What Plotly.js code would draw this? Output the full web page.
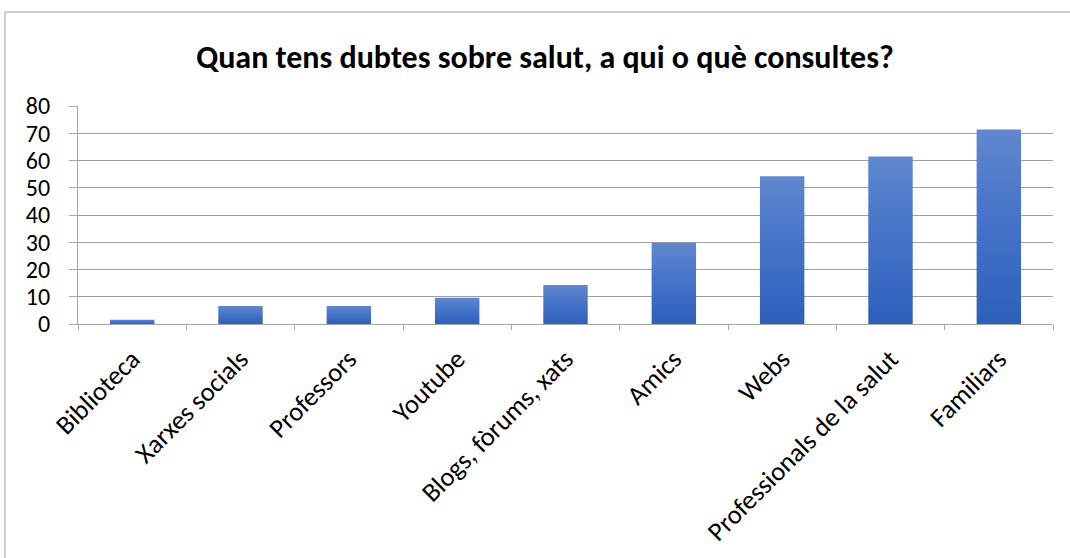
<!DOCTYPE html>
<html>
<head>
<meta charset="utf-8">
<script src="https://cdn.plot.ly/plotly-3.0.1.min.js"></script>
<style>
  html, body { margin: 0; padding: 0; background: #ffffff; }
  #chart { width: 1070px; height: 558px; }
</style>
</head>
<body>
<div id="chart"></div>
<script>
const categories = ["Biblioteca", "Xarxes socials", "Professors", "Youtube", "Blogs, fòrums, xats", "Amics", "Webs", "Professionals de la salut", "Familiars"];
const values = [1.6, 6.6, 6.6, 9.6, 14.3, 29.8, 54.2, 61.5, 71.4];
const yTickValues = [0, 10, 20, 30, 40, 50, 60, 70, 80];
const chartTitle = "Quan tens dubtes sobre salut, a qui o què consultes?";

const FONT = "Carlito, Calibri, Lato, 'Open Sans', sans-serif";

const trace = {
  type: "bar",
  x: categories,
  y: values,
  marker: { color: "#4472c4", line: { width: 0 } },
  hoverinfo: "x+y"
};

const layout = {
  width: 1070,
  height: 558,
  margin: { l: 78, r: 17, t: 106, b: 234 },
  paper_bgcolor: "#ffffff",
  plot_bgcolor: "#ffffff",
  showlegend: false,
  bargap: 0.59,
  font: { family: FONT, color: "#000000", size: 24 },
  title: {
    text: "<b>" + chartTitle + "</b>",
    font: { family: FONT, size: 32, color: "#000000" },
    xref: "container", yref: "container",
    x: 545 / 1070, xanchor: "center",
    y: 1 - 57 / 558, yanchor: "middle"
  },
  xaxis: {
    type: "category",
    tickangle: -45,
    ticks: "outside",
    tickson: "boundaries",
    ticklen: 5,
    tickcolor: "#a6a6a6",
    tickwidth: 1,
    showline: true,
    linecolor: "#a6a6a6",
    linewidth: 1,
    showgrid: false,
    tickfont: { family: FONT, size: 26.5, color: "#000000" },
    ticklabelstandoff: 8,
    fixedrange: true
  },
  yaxis: {
    range: [0, 80],
    tickvals: yTickValues,
    ticks: "outside",
    ticklen: 8,
    tickcolor: "#a6a6a6",
    tickwidth: 1,
    showline: true,
    linecolor: "#a6a6a6",
    linewidth: 1,
    showgrid: true,
    gridcolor: "#a0a0a0",
    gridwidth: 1,
    zeroline: false,
    tickfont: { family: FONT, size: 24, color: "#000000" },
    ticklabelstandoff: 14,
    fixedrange: true
  },
  shapes: [
    {
      type: "path",
      xref: "paper", yref: "paper",
      path: "M -0.0749 -1.2 L -0.0749 1.4312 L 1.05 1.4312",
      line: { color: "#a0a0a0", width: 1 }
    }
  ]
};

Plotly.newPlot("chart", [trace], layout, { displayModeBar: false, staticPlot: true }).then(function (gd) {
  const svg = gd.querySelector("svg.main-svg");
  const ns = "http://www.w3.org/2000/svg";
  let defs = svg.querySelector("defs");
  if (!defs) { defs = document.createElementNS(ns, "defs"); svg.insertBefore(defs, svg.firstChild); }
  const grad = document.createElementNS(ns, "linearGradient");
  grad.setAttribute("id", "barGrad");
  grad.setAttribute("x1", "0"); grad.setAttribute("y1", "0");
  grad.setAttribute("x2", "0"); grad.setAttribute("y2", "1");
  const s1 = document.createElementNS(ns, "stop");
  s1.setAttribute("offset", "0"); s1.setAttribute("stop-color", "#6087cf");
  const s2 = document.createElementNS(ns, "stop");
  s2.setAttribute("offset", "0.5"); s2.setAttribute("stop-color", "#4472c8");
  const s3 = document.createElementNS(ns, "stop");
  s3.setAttribute("offset", "1"); s3.setAttribute("stop-color", "#2d60bb");
  grad.appendChild(s1); grad.appendChild(s2); grad.appendChild(s3);
  defs.appendChild(grad);
  gd.querySelectorAll(".bars .point path").forEach(function (p) {
    p.style.fill = "url(#barGrad)";
  });
});
</script>
</body>
</html>
